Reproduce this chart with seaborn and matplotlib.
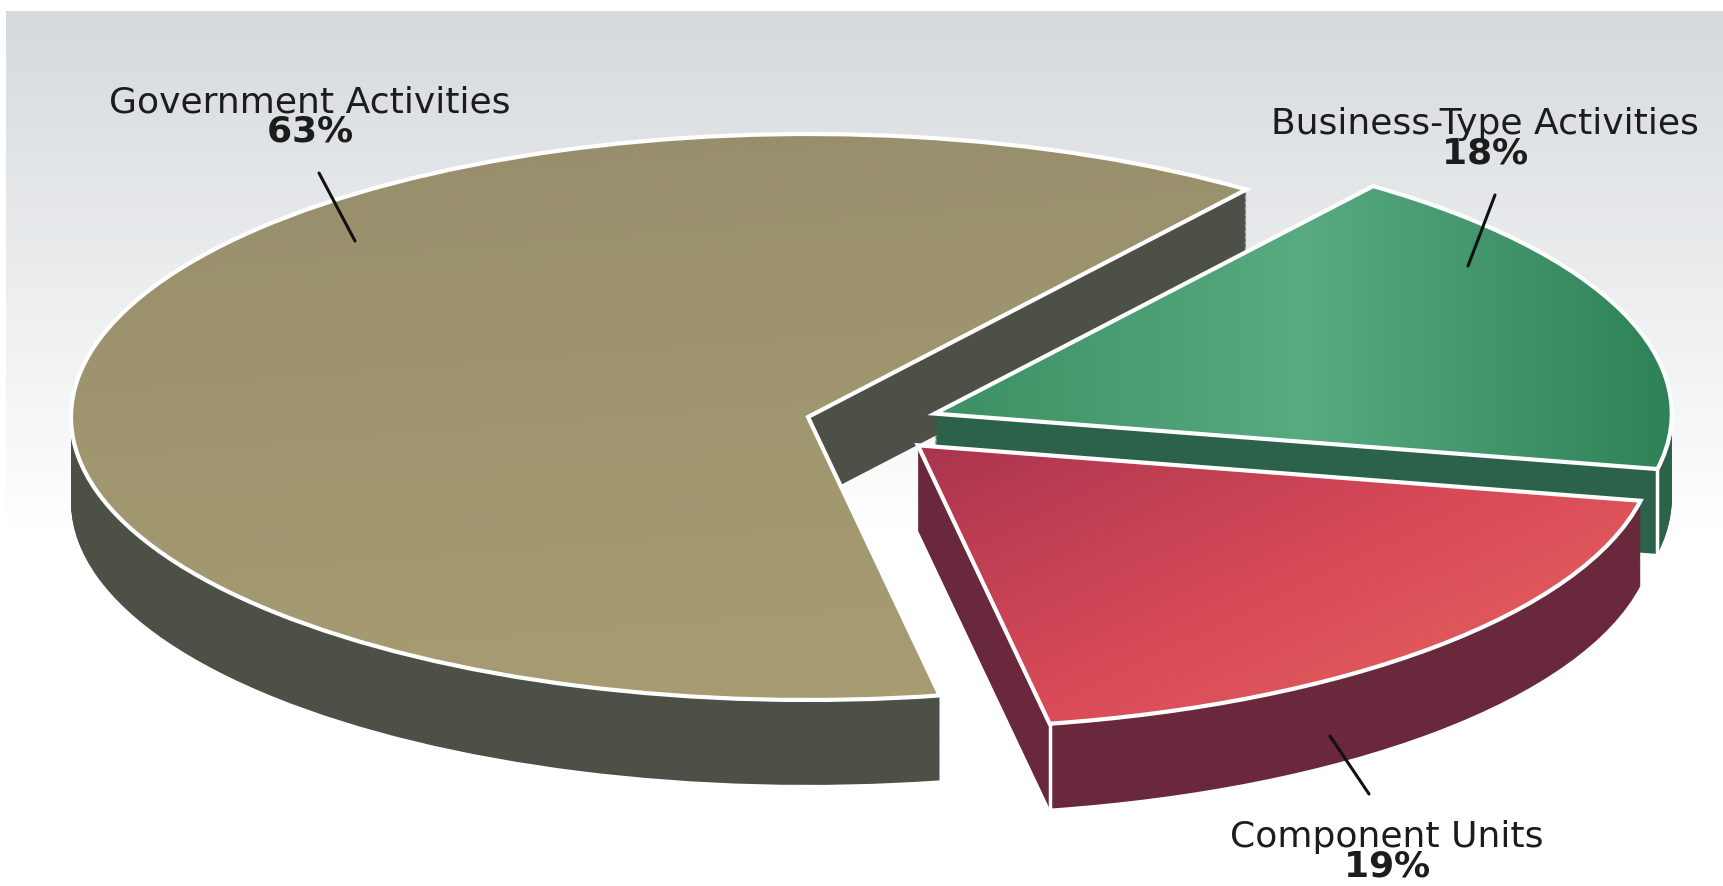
import numpy as np
import matplotlib
matplotlib.use("Agg")
import matplotlib.pyplot as plt
import matplotlib.patches as mpatches
import seaborn as sns
from matplotlib.colors import to_rgb

# ---- data ----
categories = ["Government Activities", "Component Units", "Business-Type Activities"]
shares = [63, 19, 18]
pct_labels = ["63%", "19%", "18%"]

sns.set_theme(style="white")
plt.rcParams["font.family"] = ["DejaVu Sans"]
plt.rcParams["mathtext.fontset"] = "dejavusans"

W, H = 1724, 887
fig = plt.figure(figsize=(W / 100, H / 100), dpi=100)
ax = fig.add_axes([0, 0, 1, 1])

# pixel -> data mapping (ellipse radii in px)
CX, CY, RX, RY = 808, 418, 737, 283
def px(x, y):
    return ((x - CX) / RX, (CY - y) / RY)

top_colors = ["#9f956f", "#d64a58", "#3f9669"]
side_colors = ["#4c5046", "#6a283d", "#2c614a"]
offsets = [(0.0, 0.0), (0.149, -0.100), (0.172, 0.012)]
zbase = [10, 30, 20]
START = 53.5

depth = 0.30
n_layers = 70
for k in range(n_layers, 0, -1):
    dy = -depth * k / n_layers
    wedges, _ = ax.pie(shares, startangle=START, counterclock=True,
                       colors=side_colors, radius=1.0,
                       wedgeprops=dict(linewidth=0))
    for i, w in enumerate(wedges):
        w.set_center((offsets[i][0], offsets[i][1] + dy))
        w.set_zorder(zbase[i])

tops, _ = ax.pie(shares, startangle=START, counterclock=True,
                 colors=top_colors, radius=1.0,
                 wedgeprops=dict(linewidth=0))

grads = [
    (["#968d6c", "#a0966f", "#a89d73"], (0.2, -1.0)),
    (["#a8344e", "#d84a58", "#e8685f"], (1.0, -0.8)),
    (["#3a8f62", "#58aa80", "#2c8056"], (1.0, 0.0)),
]

def grad_rgb(stops, direction, x0, x1, y0, y1, n=300):
    xs = np.linspace(x0, x1, n)
    ys = np.linspace(y1, y0, n)
    X, Y = np.meshgrid(xs, ys)
    d = np.array(direction, float)
    u = X * d[0] + Y * d[1]
    u = (u - u.min()) / (u.max() - u.min())
    cols = np.array([to_rgb(c) for c in stops])
    pos = np.linspace(0, 1, len(cols))
    img = np.zeros(u.shape + (3,))
    for ch in range(3):
        img[..., ch] = np.interp(u, pos, cols[:, ch])
    return img

for i, w in enumerate(tops):
    cx, cy = offsets[i]
    w.set_center((cx, cy))
    w.set_zorder(zbase[i] + 1)
    th = np.radians(np.linspace(w.theta1, w.theta2, 200))
    xs = np.concatenate([[cx], cx + np.cos(th)])
    ys = np.concatenate([[cy], cy + np.sin(th)])
    x0, x1, y0, y1 = xs.min() - 0.02, xs.max() + 0.02, ys.min() - 0.02, ys.max() + 0.02
    stops, direction = grads[i]
    im = ax.imshow(grad_rgb(stops, direction, x0, x1, y0, y1),
                   extent=(x0, x1, y0, y1), aspect="auto",
                   zorder=zbase[i] + 1.5, interpolation="bilinear")
    im.set_clip_path(w)
    outline = mpatches.Wedge((cx, cy), 1.0, w.theta1, w.theta2,
                             fill=False, edgecolor="white", linewidth=3,
                             zorder=zbase[i] + 2)
    ax.add_patch(outline)

# white vertical edges at visible outer corners
for i in (1, 2):
    w = tops[i]
    cx, cy = offsets[i]
    a = np.radians(w.theta1)
    xe, ye = cx + np.cos(a), cy + np.sin(a)
    ax.plot([xe, xe], [ye, ye - depth], color="white", lw=2.5, zorder=zbase[i] + 2,
            solid_capstyle="butt")

# background gradient with scanned white margins
xl = px(0, 0)[0], px(W, 0)[0]
yl = px(0, H)[1], px(0, 0)[1]
rows = np.arange(H)[:, None]
top_c = np.array(to_rgb("#d6dadd"))
t = np.clip((rows - 12) / 520.0, 0, 1)
bg = top_c[None, None, :] * (1 - t[..., None]) + 1.0 * t[..., None]
bg = np.repeat(bg, W, axis=1)
bg[:12, :, :] = 1.0
bg[:, :6, :] = 1.0
ax.imshow(bg, extent=(xl[0], xl[1], yl[0], yl[1]), aspect="auto", zorder=0)

ax.set_xlim(*xl)
ax.set_ylim(*yl)
ax.set_aspect("auto")
ax.axis("off")

# labels (name + bold percentage as one two-line text)
label_pos = [(310, 117), (1387, 852), (1485, 139)]
for i in range(3):
    x, y = label_pos[i]
    pct = pct_labels[i].replace("%", r"\%")
    ax.text(*px(x, y), f"{categories[i]}\n$\\mathbf{{{pct}}}$",
            ha="center", va="center", multialignment="center",
            fontsize=26, color="#1c1c1c", linespacing=0.82, zorder=50)

leaders = [((319, 174), (355, 242)), ((1330, 737), (1369, 795)), ((1495, 196), (1468, 267))]
for (a, b) in leaders:
    pa, pb = px(*a), px(*b)
    ax.plot([pa[0], pb[0]], [pa[1], pb[1]], color="#111111", lw=2.2, zorder=60)

fig.savefig("out.png", dpi=100)
